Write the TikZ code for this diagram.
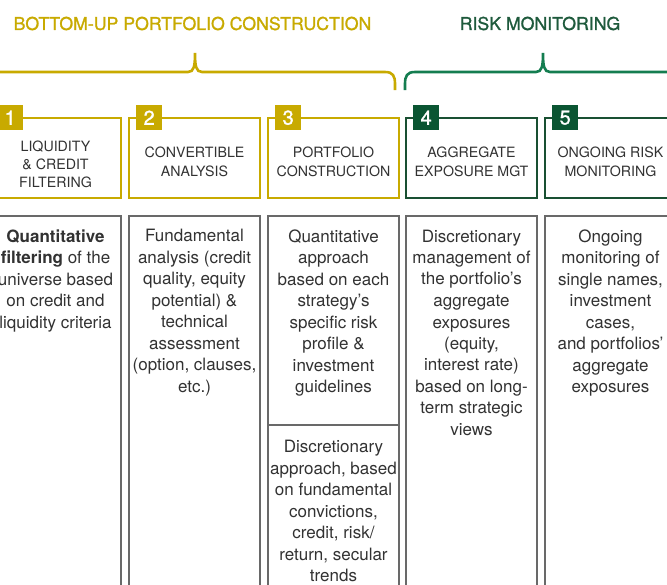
\documentclass[tikz,border=0pt]{standalone}
\usepackage{fontspec}
\setmainfont{TeX Gyre Heros}
\newfontfamily\medfont[FakeBold=1.2]{TeX Gyre Heros}
\definecolor{gold}{RGB}{200,170,0}
\definecolor{gtitle}{RGB}{30,90,60}
\definecolor{gbrace}{RGB}{20,125,80}
\definecolor{gsq}{RGB}{10,85,50}
\definecolor{gbox}{RGB}{25,80,50}
\definecolor{bord}{RGB}{105,105,105}
\definecolor{txt}{RGB}{50,50,50}
\begin{document}
\begin{tikzpicture}[x=1pt,y=-1pt,
  title/.style={font=\medfont\fontsize{17.7}{20}\selectfont, inner sep=0pt},
  bracestyle/.style={line width=2.6pt, line cap=butt},
  hbox/.style={draw, line width=1.5pt, minimum width=131pt, minimum height=80pt, anchor=north west, inner sep=0pt, outer sep=0pt},
  bbox/.style={draw=bord, line width=1.2pt, minimum width=131pt, anchor=north west, inner sep=0pt, outer sep=0pt},
  numsq/.style={minimum width=26pt, minimum height=25pt, anchor=north west, inner sep=0pt, text=white, font=\medfont\fontsize{20}{20}\selectfont},
  htext/.style={anchor=north, align=center, inner sep=0pt, text=txt, font=\fontsize{14.2}{18.4}\selectfont, execute at begin node={\rule{0pt}{11.4pt}}},
  btext/.style={anchor=north, align=center, inner sep=0pt, text=txt, font=\fontsize{17}{21.5}\selectfont, execute at begin node={\rule{0pt}{13.6pt}}}
]
\useasboundingbox (0,0) rectangle (667,584);
\clip (0,0) rectangle (667,584);
\fill[white] (0,0) rectangle (667,584);

% titles
\node[title, text=gold] (t1) at (192.5,23.5) {BOTTOM-UP PORTFOLIO CONSTRUCTION};
\node[title, text=gtitle] (t2) at (540,23.5) {RISK MONITORING};

% braces
\draw[bracestyle, gold] (-20,72) -- (188,72) .. controls (194,72) and (195,66) .. (195,53)
   .. controls (195,66) and (196,72) .. (202,72) -- (385,72)
   .. controls (393,72) and (395,76) .. (395,84) -- (395,90);
\draw[bracestyle, gbrace] (405,90) -- (405,84) .. controls (405,76) and (407,72) .. (415,72)
   -- (536,72) .. controls (542,72) and (543,66) .. (543,53)
   .. controls (543,66) and (544,72) .. (550,72) -- (690,72);

% header boxes
\node[hbox, draw=gold] (h1) at (-10,118) {};
\node[hbox, draw=gold] (h2) at (129,118) {};
\node[hbox, draw=gold] (h3) at (268,118) {};
\node[hbox, draw=gbox] (h4) at (406,118) {};
\node[hbox, draw=gbox] (h5) at (545,118) {};

% number squares
\node[numsq, fill=gold] (n1) at (-3,105) {1};
\node[numsq, fill=gold] (n2) at (136,105) {2};
\node[numsq, fill=gold] (n3) at (275,105) {3};
\node[numsq, fill=gsq] (n4) at (413,105) {4};
\node[numsq, fill=gsq] (n5) at (552,105) {5};

% header texts
\node[htext] (l1) at (55.5,140.3) {LIQUIDITY\\\& CREDIT\\FILTERING};
\node[htext] (l2) at (194.5,147) {CONVERTIBLE\\ANALYSIS};
\node[htext] (l3) at (333.5,147) {PORTFOLIO\\CONSTRUCTION};
\node[htext] (l4) at (471.5,147) {AGGREGATE\\EXPOSURE MGT};
\node[htext] (l5) at (610.5,147) {ONGOING RISK\\MONITORING};

% body boxes
\node[bbox, minimum height=390pt] (b1) at (-10,216) {};
\node[bbox, minimum height=390pt] (b2) at (129,216) {};
\node[bbox, minimum height=209pt] (b3a) at (268,216) {};
\node[bbox, minimum height=181pt] (b3b) at (268,425) {};
\node[bbox, minimum height=390pt] (b4) at (406,216) {};
\node[bbox, minimum height=390pt] (b5) at (545,216) {};

% body texts
\node[btext] (x1) at (55.5,229.4) {\textbf{Quantitative}\\\textbf{filtering} of the\\universe based\\on credit and\\liquidity criteria};
\node[btext] (x2) at (194.5,229.4) {Fundamental\\analysis (credit\\quality, equity\\potential) \&\\technical\\assessment\\(option, clauses,\\etc.)};
\node[btext] (x3a) at (333.5,229.4) {Quantitative\\approach\\based on each\\strategy’s\\specific risk\\profile \&\\investment\\guidelines};
\node[btext] (x3b) at (333.5,439.9) {Discretionary\\approach, based\\on fundamental\\convictions,\\credit, risk/\\return, secular\\trends};
\node[btext] (x4) at (471.5,229.4) {Discretionary\\management of\\the portfolio’s\\aggregate\\exposures\\(equity,\\interest rate)\\based on long-\\term strategic\\views};
\node[btext] (x5) at (610.5,229.4) {Ongoing\\monitoring of\\single names,\\investment\\cases,\\and portfolios’\\aggregate\\exposures};
\end{tikzpicture}
\end{document}
